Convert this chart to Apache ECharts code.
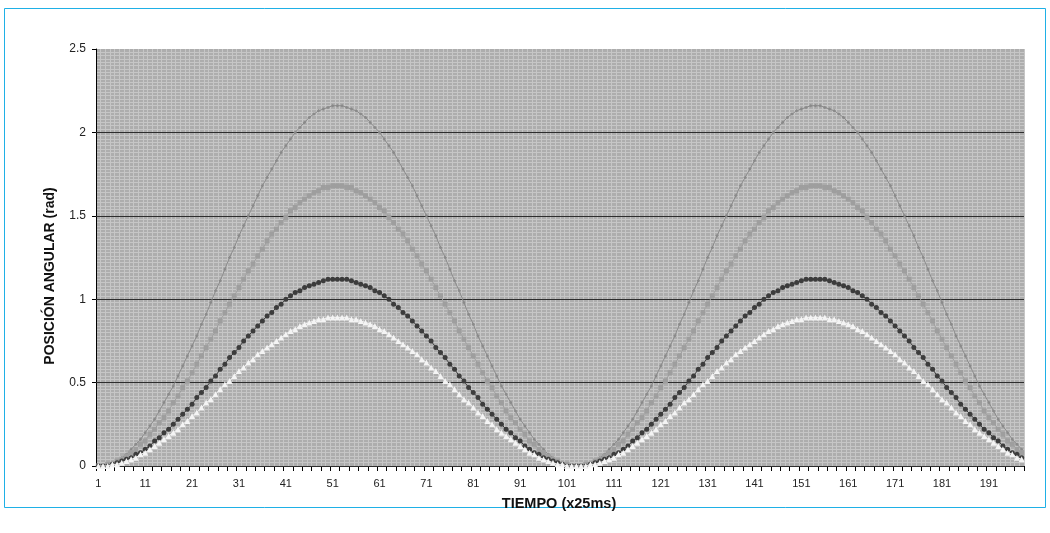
<!DOCTYPE html>
<html>
<head>
<meta charset="utf-8">
<script src="https://cdn.jsdelivr.net/npm/echarts@6/dist/echarts.min.js"></script>
<style>
html,body{margin:0;padding:0;background:#fff;}
#chart{width:1050px;height:533px;}
</style>
</head>
<body>
<div id="chart"></div>
<script>
const categories = [1,2,3,4,5,6,7,8,9,10,11,12,13,14,15,16,17,18,19,20,21,22,23,24,25,26,27,28,29,30,31,32,33,34,35,36,37,38,39,40,41,42,43,44,45,46,47,48,49,50,51,52,53,54,55,56,57,58,59,60,61,62,63,64,65,66,67,68,69,70,71,72,73,74,75,76,77,78,79,80,81,82,83,84,85,86,87,88,89,90,91,92,93,94,95,96,97,98,99,100,101,102,103,104,105,106,107,108,109,110,111,112,113,114,115,116,117,118,119,120,121,122,123,124,125,126,127,128,129,130,131,132,133,134,135,136,137,138,139,140,141,142,143,144,145,146,147,148,149,150,151,152,153,154,155,156,157,158,159,160,161,162,163,164,165,166,167,168,169,170,171,172,173,174,175,176,177,178,179,180,181,182,183,184,185,186,187,188,189,190,191,192,193,194,195,196,197,198];

const serieA = [0,0,0.01,0.02,0.03,0.05,0.07,0.10,0.13,0.16,0.20,0.24,0.28,0.33,0.38,0.43,0.48,0.54,0.60,0.66,0.72,0.78,0.85,0.91,0.98,1.05,1.11,1.18,1.25,1.31,1.38,1.44,1.50,1.56,1.62,1.68,1.73,1.78,1.83,1.88,1.92,1.96,2.00,2.03,2.06,2.09,2.11,2.13,2.14,2.15,2.16,2.16,
2.16,2.15,2.14,2.13,2.11,2.09,2.06,2.03,2.00,1.96,1.92,1.88,1.83,1.78,1.73,1.68,1.62,1.56,1.50,1.44,1.38,1.31,1.25,1.18,1.11,1.05,0.98,0.91,0.85,0.78,0.72,0.66,0.60,0.54,0.48,0.43,0.38,0.33,0.28,0.24,0.20,0.16,0.13,0.10,0.07,0.05,0.03,0.02,0.01,0,0,
0,0.01,0.02,0.03,0.05,0.07,0.10,0.13,0.16,0.20,0.24,0.28,0.33,0.38,0.43,0.48,0.54,0.60,0.66,0.72,0.78,0.85,0.91,0.98,1.05,1.11,1.18,1.25,1.31,1.38,1.44,1.50,1.56,1.62,1.68,1.73,1.78,1.83,1.88,1.92,1.96,2.00,2.03,2.06,2.09,2.11,2.13,2.14,2.15,2.16,2.16,
2.16,2.15,2.14,2.13,2.11,2.09,2.06,2.03,2.00,1.96,1.92,1.88,1.83,1.78,1.73,1.68,1.62,1.56,1.50,1.44,1.38,1.31,1.25,1.18,1.11,1.05,0.98,0.91,0.85,0.78,0.72,0.66,0.60,0.54,0.48,0.43,0.38,0.33,0.28,0.24,0.20,0.16,0.13,0.10];

const serieB = [0,0,0.01,0.01,0.03,0.04,0.06,0.08,0.10,0.13,0.15,0.19,0.22,0.26,0.29,0.33,0.38,0.42,0.47,0.51,0.56,0.61,0.66,0.71,0.76,0.81,0.87,0.92,0.97,1.02,1.07,1.12,1.17,1.21,1.26,1.30,1.35,1.39,1.42,1.46,1.49,1.53,1.55,1.58,1.60,1.62,1.64,1.65,1.67,1.67,1.68,1.68,
1.68,1.67,1.67,1.65,1.64,1.62,1.60,1.58,1.55,1.53,1.49,1.46,1.42,1.39,1.35,1.30,1.26,1.21,1.17,1.12,1.07,1.02,0.97,0.92,0.87,0.81,0.76,0.71,0.66,0.61,0.56,0.51,0.47,0.42,0.38,0.33,0.29,0.26,0.22,0.19,0.15,0.13,0.10,0.08,0.06,0.04,0.03,0.01,0.01,0,0,
0,0.01,0.01,0.03,0.04,0.06,0.08,0.10,0.13,0.15,0.19,0.22,0.26,0.29,0.33,0.38,0.42,0.47,0.51,0.56,0.61,0.66,0.71,0.76,0.81,0.87,0.92,0.97,1.02,1.07,1.12,1.17,1.21,1.26,1.30,1.35,1.39,1.42,1.46,1.49,1.53,1.55,1.58,1.60,1.62,1.64,1.65,1.67,1.67,1.68,1.68,
1.68,1.67,1.67,1.65,1.64,1.62,1.60,1.58,1.55,1.53,1.49,1.46,1.42,1.39,1.35,1.30,1.26,1.21,1.17,1.12,1.07,1.02,0.97,0.92,0.87,0.81,0.76,0.71,0.66,0.61,0.56,0.51,0.47,0.42,0.38,0.33,0.29,0.26,0.22,0.19,0.15,0.13,0.10,0.08];

const serieC = [0,0,0,0.01,0.02,0.03,0.04,0.05,0.07,0.08,0.10,0.12,0.15,0.17,0.20,0.22,0.25,0.28,0.31,0.34,0.37,0.41,0.44,0.47,0.51,0.54,0.58,0.61,0.65,0.68,0.71,0.75,0.78,0.81,0.84,0.87,0.90,0.92,0.95,0.97,1.00,1.02,1.04,1.05,1.07,1.08,1.09,1.10,1.11,1.12,1.12,1.12,
1.12,1.12,1.11,1.10,1.09,1.08,1.07,1.05,1.04,1.02,1.00,0.97,0.95,0.92,0.90,0.87,0.84,0.81,0.78,0.75,0.71,0.68,0.65,0.61,0.58,0.54,0.51,0.47,0.44,0.41,0.37,0.34,0.31,0.28,0.25,0.22,0.20,0.17,0.15,0.12,0.10,0.08,0.07,0.05,0.04,0.03,0.02,0.01,0,0,0,
0,0,0.01,0.02,0.03,0.04,0.05,0.07,0.08,0.10,0.12,0.15,0.17,0.20,0.22,0.25,0.28,0.31,0.34,0.37,0.41,0.44,0.47,0.51,0.54,0.58,0.61,0.65,0.68,0.71,0.75,0.78,0.81,0.84,0.87,0.90,0.92,0.95,0.97,1.00,1.02,1.04,1.05,1.07,1.08,1.09,1.10,1.11,1.12,1.12,1.12,
1.12,1.12,1.11,1.10,1.09,1.08,1.07,1.05,1.04,1.02,1.00,0.97,0.95,0.92,0.90,0.87,0.84,0.81,0.78,0.75,0.71,0.68,0.65,0.61,0.58,0.54,0.51,0.47,0.44,0.41,0.37,0.34,0.31,0.28,0.25,0.22,0.20,0.17,0.15,0.12,0.10,0.08,0.07,0.05];

const serieD = [0,0,0,0.01,0.01,0.02,0.03,0.04,0.05,0.07,0.08,0.10,0.12,0.14,0.16,0.18,0.20,0.22,0.25,0.27,0.30,0.32,0.35,0.38,0.40,0.43,0.46,0.49,0.51,0.54,0.57,0.59,0.62,0.64,0.67,0.69,0.71,0.73,0.75,0.77,0.79,0.81,0.82,0.84,0.85,0.86,0.87,0.88,0.88,0.89,0.89,0.89,
0.89,0.89,0.88,0.88,0.87,0.86,0.85,0.84,0.82,0.81,0.79,0.77,0.75,0.73,0.71,0.69,0.67,0.64,0.62,0.59,0.57,0.54,0.51,0.49,0.46,0.43,0.40,0.38,0.35,0.32,0.30,0.27,0.25,0.22,0.20,0.18,0.16,0.14,0.12,0.10,0.08,0.07,0.05,0.04,0.03,0.02,0.01,0.01,0,0,0,
0,0,0.01,0.01,0.02,0.03,0.04,0.05,0.07,0.08,0.10,0.12,0.14,0.16,0.18,0.20,0.22,0.25,0.27,0.30,0.32,0.35,0.38,0.40,0.43,0.46,0.49,0.51,0.54,0.57,0.59,0.62,0.64,0.67,0.69,0.71,0.73,0.75,0.77,0.79,0.81,0.82,0.84,0.85,0.86,0.87,0.88,0.88,0.89,0.89,0.89,
0.89,0.89,0.88,0.88,0.87,0.86,0.85,0.84,0.82,0.81,0.79,0.77,0.75,0.73,0.71,0.69,0.67,0.64,0.62,0.59,0.57,0.54,0.51,0.49,0.46,0.43,0.40,0.38,0.35,0.32,0.30,0.27,0.25,0.22,0.20,0.18,0.16,0.14,0.12,0.10,0.08,0.07,0.05,0.04];

const yTicks = [0, 0.5, 1, 1.5, 2, 2.5];
const xTitle = 'TIEMPO (x25ms)';
const yTitle = 'POSICIÓN ANGULAR (rad)';

const chart = echarts.init(document.getElementById('chart'), null, {renderer: 'canvas'});
const font = '"Liberation Sans", Arial, sans-serif';
const dark = '#2e2e2e';
chart.setOption({
  animation: false,
  backgroundColor: '#ffffff',
  textStyle: {fontFamily: font},
  graphic: [
    {type: 'rect', z: -10, silent: true,
      shape: {x: 4.5, y: 8.5, width: 1041, height: 499},
      style: {fill: 'none', stroke: '#1fb0e6', lineWidth: 1}},
    {type: 'text', silent: true, x: 50, y: 276, rotation: Math.PI / 2,
      style: {text: yTitle, font: 'bold 14px ' + font, fill: '#111', align: 'center', verticalAlign: 'middle'}},
    {type: 'text', silent: true, x: 559, y: 504,
      style: {text: xTitle, font: 'bold 14.5px ' + font, fill: '#111', align: 'center', verticalAlign: 'middle'}}
  ],
  grid: {left: 96, right: 26, top: 49, bottom: 67, show: true, backgroundColor: '#adadad', borderWidth: 0},
  xAxis: {
    type: 'category',
    data: categories,
    boundaryGap: true,
    z: 0,
    axisLine: {show: true, onZero: false, lineStyle: {color: '#000', width: 1}},
    axisTick: {show: true, interval: 1, length: 5, lineStyle: {color: '#000'}},
    axisLabel: {interval: 9, fontSize: 11, color: '#222', margin: 12, fontFamily: font},
    splitLine: {show: true, interval: 0, lineStyle: {color: '#c6c6c6', width: 1}}
  },
  yAxis: [{
    type: 'value',
    min: 0, max: 2.5, interval: 0.5,
    z: 0,
    axisLine: {show: true, lineStyle: {color: '#000', width: 1}},
    axisTick: {show: true, length: 4, lineStyle: {color: '#000'}},
    axisLabel: {fontSize: 12, color: '#222', margin: 10, fontFamily: font,
      formatter: function (v) { return yTicks.indexOf(v) >= 0 ? String(v) : ''; }},
    splitLine: {show: false},
    minorTick: {show: false, splitNumber: 25},
    minorSplitLine: {show: true, lineStyle: {color: '#c6c6c6', width: 1}}
  }, {
    type: 'value',
    min: 0, max: 2.5, interval: 0.5,
    position: 'left',
    z: 1,
    axisLine: {show: false},
    axisTick: {show: false},
    axisLabel: {show: false},
    splitLine: {show: true, lineStyle: {width: 1, color: [dark, dark, dark, dark, dark, 'rgba(0,0,0,0)']}}
  }],
  series: [
    {name: 'A', type: 'line', data: serieA, symbol: 'diamond', symbolSize: 3.5, showSymbol: true, showAllSymbol: true,
      lineStyle: {color: '#8a8a8a', width: 1}, itemStyle: {color: '#8a8a8a', borderWidth: 0}, z: 3},
    {name: 'B', type: 'line', data: serieB, symbol: 'rect', symbolSize: 5, showSymbol: true, showAllSymbol: true,
      lineStyle: {color: '#9e9e9e', width: 1}, itemStyle: {color: '#9e9e9e', borderWidth: 0}, z: 4},
    {name: 'C', type: 'line', data: serieC, symbol: 'circle', symbolSize: 5, showSymbol: true, showAllSymbol: true,
      lineStyle: {color: '#3c3c3c', width: 1}, itemStyle: {color: '#3c3c3c', borderWidth: 0}, z: 5},
    {name: 'D', type: 'line', data: serieD, symbol: 'triangle', symbolSize: 6, showSymbol: true, showAllSymbol: true,
      lineStyle: {color: '#f0f0f0', width: 1}, itemStyle: {color: '#f4f4f4', borderWidth: 0}, z: 6}
  ]
});
</script>
</body>
</html>
